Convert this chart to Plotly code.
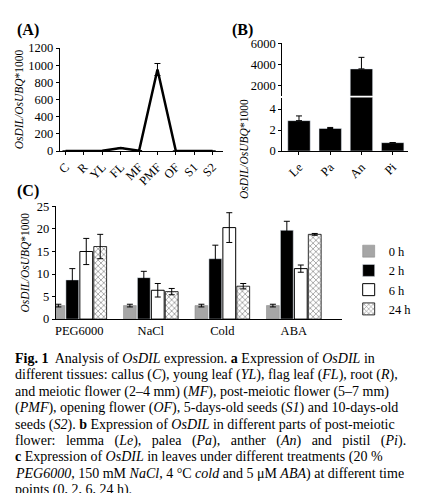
import plotly.graph_objects as go

W, H = 440, 493

# ---------- data ----------
tissues = ["C", "R", "YL", "FL", "MF", "PMF", "OF", "S1", "S2"]
tissue_vals = [0, 0, 2, 35, 3, 950, 0, 0, 0]
tissue_err = [0, 0, 0, 0, 0, 70, 0, 0, 0]

parts = ["Le", "Pa", "An", "Pi"]
part_vals = [2.9, 2.15, 3550, 0.8]
part_err = [0.45, 0.1, 1100, 0]

treatments = ["PEG6000", "NaCl", "Cold", "ABA"]
times = ["0 h", "2 h", "6 h", "24 h"]
treat_vals = {
    "0 h": [3, 3, 3, 3],
    "2 h": [8.7, 9.2, 13.4, 19.7],
    "6 h": [15, 6.4, 20.3, 11.2],
    "24 h": [16.1, 6.1, 7.3, 18.8],
}
treat_err = {
    "0 h": [0.3, 0.3, 0.3, 0.3],
    "2 h": [2.5, 1.4, 3.0, 2.0],
    "6 h": [2.9, 1.5, 3.3, 0.8],
    "24 h": [2.7, 0.7, 0.6, 0.2],
}

caption = [
    "<b>Fig. 1</b>  Analysis of <i>OsDIL</i> expression. <b>a</b> Expression of <i>OsDIL</i> in",
    "different tissues: callus (<i>C</i>), young leaf (<i>YL</i>), flag leaf (<i>FL</i>), root (<i>R</i>),",
    "and meiotic flower (2–4 mm) (<i>MF</i>), post-meiotic flower (5–7 mm)",
    "(<i>PMF</i>), opening flower (<i>OF</i>), 5-days-old seeds (<i>S1</i>) and 10-days-old",
    "seeds (<i>S2</i>). <b>b</b> Expression of <i>OsDIL</i> in different parts of post-meiotic",
    "flower:   lemma   (<i>Le</i>),   palea   (<i>Pa</i>),   anther   (<i>An</i>)   and   pistil   (<i>Pi</i>).",
    "<b>c</b> Expression of <i>OsDIL</i> in leaves under different treatments (20 %",
    "<i>PEG6000</i>, 150 mM <i>NaCl</i>, 4 °C <i>cold</i> and 5 μM <i>ABA</i>) at different time",
    "points (0, 2, 6, 24 h).",
]

FONT = "Liberation Serif"
px = lambda x: x / W
py = lambda y: 1 - y / H

fig = go.Figure()

# (A) tissues line
fig.add_trace(go.Scatter(
    x=tissues, y=tissue_vals, mode="lines", line=dict(color="black", width=2.5),
    error_y=dict(type="data", array=tissue_err, color="black", thickness=1, width=3),
    xaxis="x", yaxis="y", showlegend=False))

# (B) broken axis bars
for ya in ["y2", "y3"]:
    fig.add_trace(go.Bar(
        x=parts, y=part_vals, marker=dict(color="black"),
        error_y=dict(type="data", array=part_err, symmetric=False,
                     arrayminus=[0] * 4, color="black", thickness=1, width=3),
        xaxis="x2" if ya == "y2" else "x3", yaxis=ya, showlegend=False))

# (C) treatments
styles = {
    "0 h": dict(color="#a6a6a6", line=dict(color="#808080", width=0.5)),
    "2 h": dict(color="black"),
    "6 h": dict(color="white", line=dict(color="black", width=1)),
    "24 h": dict(color="white", line=dict(color="black", width=0.8),
                 pattern=dict(shape="x", fgcolor="black", bgcolor="white", size=4, solidity=0.3)),
}
for t in times:
    fig.add_trace(go.Bar(
        x=treatments, y=treat_vals[t], name=t, marker=styles[t],
        error_y=dict(type="data", array=treat_err[t], color="black", thickness=1, width=3),
        xaxis="x4", yaxis="y4"))

axis_common = dict(showgrid=False, zeroline=False, showline=True, linecolor="black",
                   linewidth=1, ticks="outside", ticklen=3, tickcolor="black",
                   tickfont=dict(family=FONT, size=12.5, color="black"))
ytitle = dict(text="<i>OsDIL/OsUBQ</i>*1000", font=dict(family=FONT, size=11.5, color="black"))

fig.update_layout(
    width=W, height=H, margin=dict(l=0, r=0, t=0, b=0),
    paper_bgcolor="white", plot_bgcolor="white",
    font=dict(family=FONT, color="black"),
    barmode="group", bargap=0.22, bargroupgap=0.08,
    xaxis=dict(axis_common, domain=[px(49), px(213)], range=[-0.32, 8.54],
               tickangle=-45, anchor="y"),
    yaxis=dict(axis_common, domain=[py(140), py(34)], range=[0, 1200], dtick=200,
               title=dict(ytitle, standoff=2), anchor="x"),
    xaxis2=dict(axis_common, domain=[px(273), px(400)], range=[-0.54, 3.5],
                tickangle=-45, anchor="y2"),
    yaxis2=dict(axis_common, domain=[py(140), py(85)], range=[0, 5.1],
                tickvals=[0, 2, 4], anchor="x2"),
    xaxis3=dict(domain=[px(273), px(400)], range=[-0.54, 3.5], matches="x2",
                visible=False, anchor="y3"),
    yaxis3=dict(axis_common, domain=[py(83), py(29)], range=[1000, 6000],
                tickvals=[2000, 4000, 6000], anchor="x3"),
    xaxis4=dict(axis_common, domain=[px(45), px(333)], range=[-0.33, 3.67],
                ticks="", anchor="y4"),
    yaxis4=dict(axis_common, domain=[py(313), py(197)], range=[0, 25], dtick=5,
                title=dict(ytitle, standoff=4), anchor="x4"),
    legend=dict(x=px(340), y=py(228), xanchor="left", yanchor="top",
                font=dict(family=FONT, size=12.5), tracegroupgap=0, itemwidth=30),
)

ann = [
    dict(text="<b>(A)</b>", x=px(4), y=py(15)),
    dict(text="<b>(B)</b>", x=px(220), y=py(15)),
    dict(text="<b>(C)</b>", x=px(4), y=py(181)),
]
for a in ann:
    fig.add_annotation(a, xref="paper", yref="paper", xanchor="left", yanchor="middle",
                       showarrow=False, font=dict(family=FONT, size=16, color="black"))
# y-axis title for (B)
fig.add_annotation(text="<i>OsDIL/OsUBQ</i>*1000", xref="paper", yref="paper",
                   x=px(234), y=py(84), textangle=-90, showarrow=False,
                   font=dict(family=FONT, size=11.5, color="black"))

for i, line in enumerate(caption):
    fig.add_annotation(text=line, xref="paper", yref="paper", x=px(2), y=py(354 + i * 16.9),
                       xanchor="left", yanchor="middle", showarrow=False,
                       font=dict(family=FONT, size=14, color="black"))

fig.write_html("out.html")
